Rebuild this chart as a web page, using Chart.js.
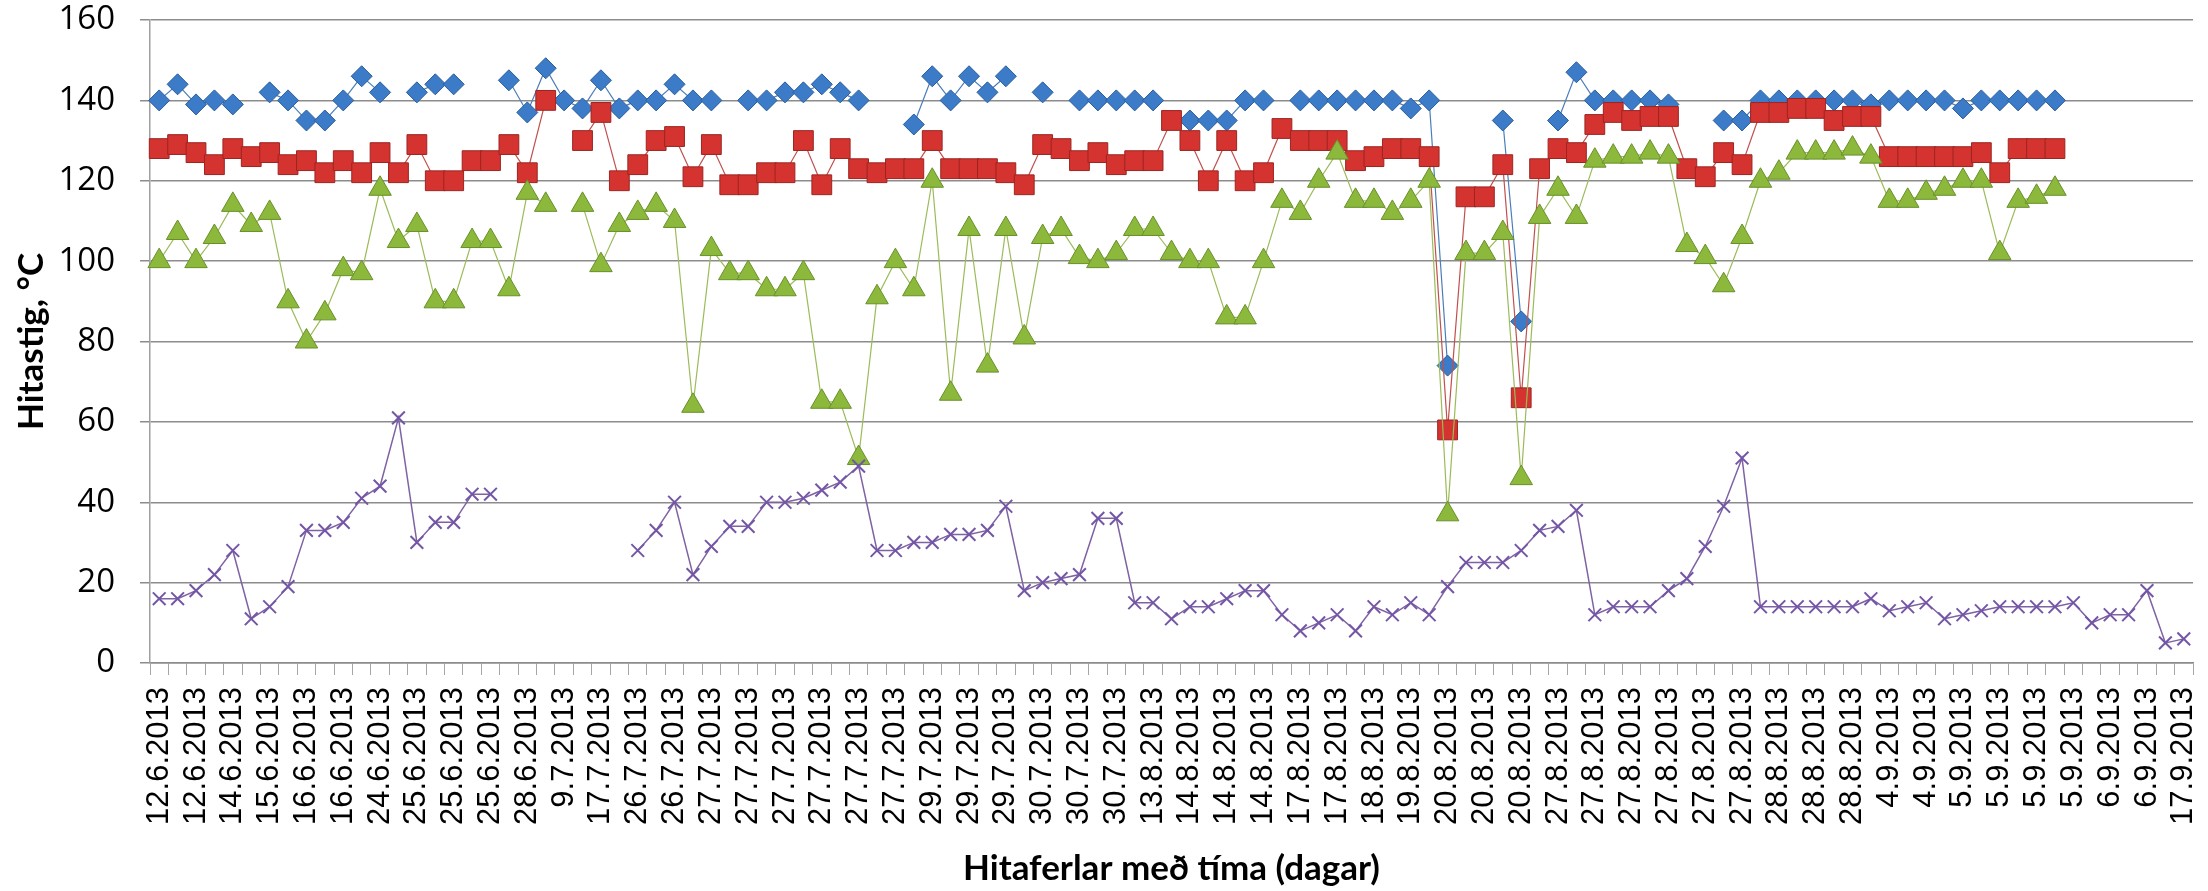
<!DOCTYPE html>
<html>
<head>
<meta charset="utf-8">
<script src="https://cdn.jsdelivr.net/npm/chart.js@4.4.1/dist/chart.umd.min.js"></script>
<style>
  html, body { margin: 0; padding: 0; background: #fff; }
  #wrap { width: 2208px; height: 891px; }
</style>
</head>
<body>
<div id="wrap"><canvas id="hitastig"></canvas></div>
<script>
// tick labels: every second category carries a date
var tickLabels = [
  '12.6.2013', '12.6.2013', '14.6.2013', '15.6.2013', '16.6.2013', '16.6.2013', '24.6.2013', '25.6.2013',
  '25.6.2013', '25.6.2013', '28.6.2013', '9.7.2013', '17.7.2013', '26.7.2013', '26.7.2013', '27.7.2013',
  '27.7.2013', '27.7.2013', '27.7.2013', '27.7.2013', '27.7.2013', '29.7.2013', '29.7.2013', '29.7.2013',
  '30.7.2013', '30.7.2013', '30.7.2013', '13.8.2013', '14.8.2013', '14.8.2013', '14.8.2013', '17.8.2013',
  '17.8.2013', '18.8.2013', '19.8.2013', '20.8.2013', '20.8.2013', '20.8.2013', '27.8.2013', '27.8.2013',
  '27.8.2013', '27.8.2013', '27.8.2013', '27.8.2013', '28.8.2013', '28.8.2013', '28.8.2013', '4.9.2013',
  '4.9.2013', '5.9.2013', '5.9.2013', '5.9.2013', '5.9.2013', '6.9.2013', '6.9.2013', '17.9.2013'
];

var blue = [
  140, 144, 139, 140, 139, null, 142, 140, 135, 135,
  140, 146, 142, null, 142, 144, 144, null, null, 145,
  137, 148, 140, 138, 145, 138, 140, 140, 144, 140,
  140, null, 140, 140, 142, 142, 144, 142, 140, null,
  null, 134, 146, 140, 146, 142, 146, null, 142, null,
  140, 140, 140, 140, 140, null, 135, 135, 135, 140,
  140, null, 140, 140, 140, 140, 140, 140, 138, 140,
  74, null, null, 135, 85, null, 135, 147, 140, 140,
  140, 140, 139, null, null, 135, 135, 140, 140, 140,
  140, 140, 140, 139, 140, 140, 140, 140, 138, 140,
  140, 140, 140, 140, null, null, null, null, null, null, null
];

var red = [
  128, 129, 127, 124, 128, 126, 127, 124, 125, 122,
  125, 122, 127, 122, 129, 120, 120, 125, 125, 129,
  122, 140, null, 130, 137, 120, 124, 130, 131, 121,
  129, 119, 119, 122, 122, 130, 119, 128, 123, 122,
  123, 123, 130, 123, 123, 123, 122, 119, 129, 128,
  125, 127, 124, 125, 125, 135, 130, 120, 130, 120,
  122, 133, 130, 130, 130, 125, 126, 128, 128, 126,
  58, 116, 116, 124, 66, 123, 128, 127, 134, 137,
  135, 136, 136, 123, 121, 127, 124, 137, 137, 138,
  138, 135, 136, 136, 126, 126, 126, 126, 126, 127,
  122, 128, 128, 128, null, null, null, null, null, null, null
];

var green = [
  100, 107, 100, 106, 114, 109, 112, 90, 80, 87,
  98, 97, 118, 105, 109, 90, 90, 105, 105, 93,
  117, 114, null, 114, 99, 109, 112, 114, 110, 64,
  103, 97, 97, 93, 93, 97, 65, 65, 51, 91,
  100, 93, 120, 67, 108, 74, 108, 81, 106, 108,
  101, 100, 102, 108, 108, 102, 100, 100, 86, 86,
  100, 115, 112, 120, 127, 115, 115, 112, 115, 120,
  37, 102, 102, 107, 46, 111, 118, 111, 125, 126,
  126, 127, 126, 104, 101, 94, 106, 120, 122, 127,
  127, 127, 128, 126, 115, 115, 117, 118, 120, 120,
  102, 115, 116, 118, null, null, null, null, null, null, null
];

var purple = [
  16, 16, 18, 22, 28, 11, 14, 19, 33, 33,
  35, 41, 44, 61, 30, 35, 35, 42, 42, null,
  null, null, null, null, null, null, 28, 33, 40, 22,
  29, 34, 34, 40, 40, 41, 43, 45, 49, 28,
  28, 30, 30, 32, 32, 33, 39, 18, 20, 21,
  22, 36, 36, 15, 15, 11, 14, 14, 16, 18,
  18, 12, 8, 10, 12, 8, 14, 12, 15, 12,
  19, 25, 25, 25, 28, 33, 34, 38, 12, 14,
  14, 14, 18, 21, 29, 39, 51, 14, 14, 14,
  14, 14, 14, 16, 13, 14, 15, 11, 12, 13,
  14, 14, 14, 14, 15, 10, 12, 12, 18, 5, 6
];

var yTicks = [0, 20, 40, 60, 80, 100, 120, 140, 160];

// one category per measurement, only the even ones get a date
var categories = blue.map(function (v, i) {
  return i % 2 === 0 ? tickLabels[i / 2] : '';
});

var gridGrey = '#8c8c8c';

var ctx = document.getElementById('hitastig').getContext('2d');

var hitastig = new Chart(ctx, {
  type: 'line',
  data: {
    labels: categories,
    datasets: [{
      label: 'Röð 1',
      data: blue,
      order: 4,
      borderColor: '#4a7ebb',
      borderWidth: 1.2,
      pointStyle: 'rectRot',
      pointRadius: 10.5,
      pointBackgroundColor: '#3b7bc8',
      pointBorderColor: '#2a5d9c',
      pointBorderWidth: 1
    }, {
      label: 'Röð 2',
      data: red,
      order: 3,
      borderColor: '#c0504d',
      borderWidth: 1.2,
      pointStyle: 'rect',
      pointRadius: 14,
      pointBackgroundColor: '#d4332f',
      pointBorderColor: '#9c2522',
      pointBorderWidth: 1
    }, {
      label: 'Röð 3',
      data: green,
      order: 2,
      borderColor: '#9bbb59',
      borderWidth: 1.2,
      pointStyle: 'triangle',
      pointRadius: 13,
      pointBackgroundColor: '#8cb83b',
      pointBorderColor: '#68902a',
      pointBorderWidth: 1
    }, {
      label: 'Röð 4',
      data: purple,
      order: 1,
      borderColor: '#7e62a3',
      borderWidth: 1.5,
      pointStyle: 'crossRot',
      pointRadius: 9,
      pointBorderColor: '#7456a6',
      pointBorderWidth: 2
    }]
  },
  options: {
    responsive: true,
    maintainAspectRatio: false,
    devicePixelRatio: 1,
    animation: false,
    spanGaps: false,
    layout: { padding: { top: 20, right: 6, bottom: 0, left: 0 } },
    plugins: {
      legend: { display: false },
      tooltip: { enabled: false }
    },
    scales: {
      x: {
        type: 'category',
        offset: true,
        afterFit: function (scale) {
          scale.height = 228;
          scale.paddingLeft = 0;
          scale.paddingRight = 0;
        },
        border: { display: true, color: gridGrey, width: 1.5 },
        grid: {
          offset: true,
          drawOnChartArea: false,
          drawTicks: true,
          tickLength: 12,
          color: '#a6a6a6',
          lineWidth: 1
        },
        ticks: {
          autoSkip: false,
          maxRotation: 90,
          minRotation: 90,
          padding: 12,
          color: '#000',
          font: { family: 'Liberation Sans', size: 31 }
        },
        title: {
          display: true,
          text: 'Hitaferlar með tíma (dagar)',
          color: '#000',
          padding: { top: 0, bottom: 1 },
          font: { family: 'Lato', weight: 'bold', size: 35 }
        }
      },
      y: {
        min: 0,
        max: 160,
        afterFit: function (scale) {
          scale.width = 150;
          scale.paddingTop = 0;
          scale.paddingBottom = 0;
        },
        afterBuildTicks: function (scale) {
          scale.ticks = yTicks.map(function (v) { return { value: v }; });
        },
        border: { display: true, color: '#a0a0a0', width: 1.5 },
        grid: {
          color: gridGrey,
          lineWidth: 1.5,
          drawTicks: true,
          tickLength: 10
        },
        ticks: {
          padding: 25,
          color: '#000',
          font: { family: 'Open Sans', size: 33 }
        },
        title: {
          display: true,
          text: 'Hitastig, °C',
          color: '#000',
          padding: { top: 11, bottom: 0 },
          font: { family: 'Lato', weight: 'bold', size: 35 }
        }
      }
    }
  }
});
</script>
</body>
</html>
